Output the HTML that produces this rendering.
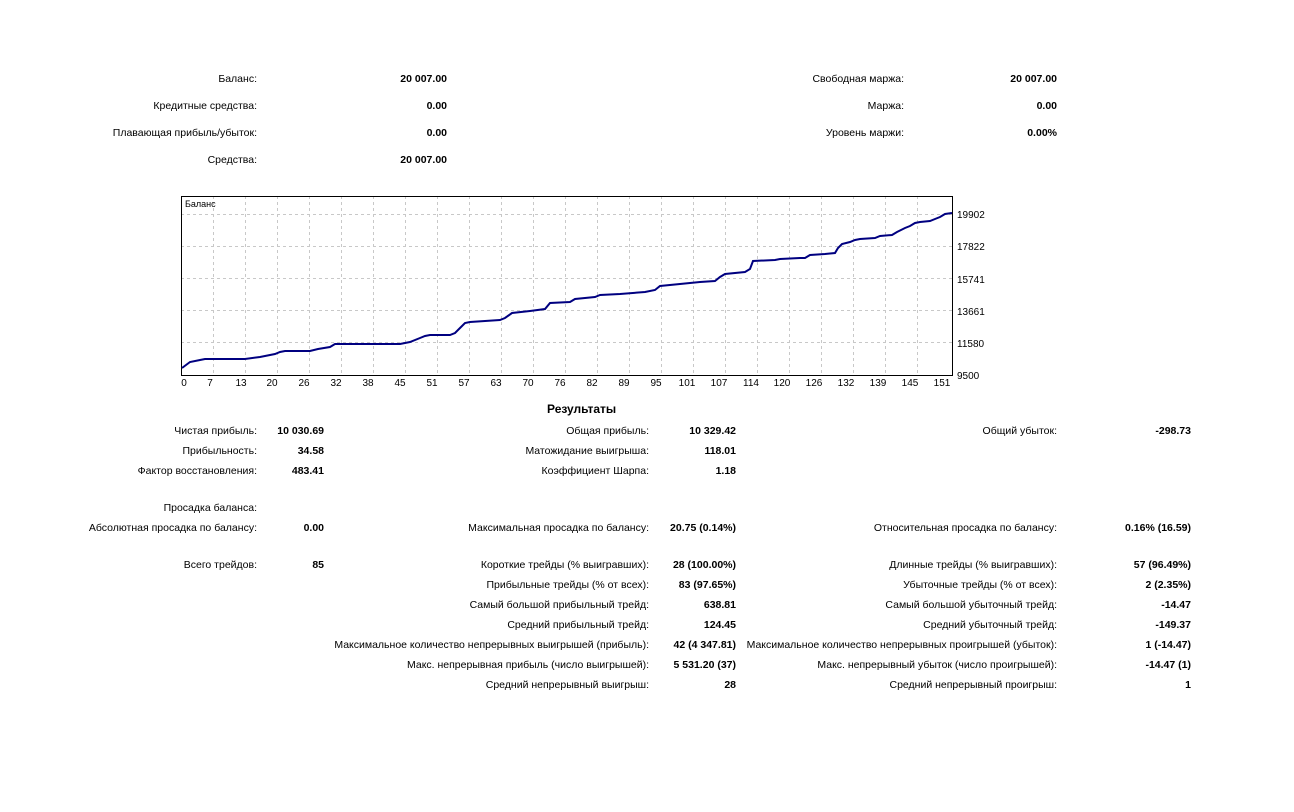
<!DOCTYPE html>
<html><head><meta charset="utf-8"><style>
body{margin:0;width:1294px;height:812px;background:#fff;position:relative;overflow:hidden;font-family:"Liberation Sans",Tahoma,sans-serif;font-size:10.5px;color:#000}
.t{position:absolute;white-space:nowrap;text-align:right;line-height:14px;margin-top:2px}
.b{font-weight:bold}
</style></head><body>
<div class="t" style="right:1037px;top:70px">Баланс:</div>
<div class="t b" style="right:847px;top:70px">20 007.00</div>
<div class="t" style="right:1037px;top:97px">Кредитные средства:</div>
<div class="t b" style="right:847px;top:97px">0.00</div>
<div class="t" style="right:1037px;top:124px">Плавающая прибыль/убыток:</div>
<div class="t b" style="right:847px;top:124px">0.00</div>
<div class="t" style="right:1037px;top:151px">Средства:</div>
<div class="t b" style="right:847px;top:151px">20 007.00</div>
<div class="t" style="right:390px;top:70px">Свободная маржа:</div>
<div class="t b" style="right:237px;top:70px">20 007.00</div>
<div class="t" style="right:390px;top:97px">Маржа:</div>
<div class="t b" style="right:237px;top:97px">0.00</div>
<div class="t" style="right:390px;top:124px">Уровень маржи:</div>
<div class="t b" style="right:237px;top:124px">0.00%</div>

<svg style="position:absolute;left:0;top:0" width="1294" height="400">
<g stroke="#c8c8c8" stroke-dasharray="3,3" stroke-width="1">
<line x1="181" y1="214.5" x2="952" y2="214.5"/><line x1="181" y1="246.5" x2="952" y2="246.5"/><line x1="181" y1="278.5" x2="952" y2="278.5"/><line x1="181" y1="310.5" x2="952" y2="310.5"/><line x1="181" y1="342.5" x2="952" y2="342.5"/>
<line x1="213.5" y1="196" x2="213.5" y2="375"/><line x1="245.5" y1="196" x2="245.5" y2="375"/><line x1="277.5" y1="196" x2="277.5" y2="375"/><line x1="309.5" y1="196" x2="309.5" y2="375"/><line x1="341.5" y1="196" x2="341.5" y2="375"/><line x1="373.5" y1="196" x2="373.5" y2="375"/><line x1="405.5" y1="196" x2="405.5" y2="375"/><line x1="437.5" y1="196" x2="437.5" y2="375"/><line x1="469.5" y1="196" x2="469.5" y2="375"/><line x1="501.5" y1="196" x2="501.5" y2="375"/><line x1="533.5" y1="196" x2="533.5" y2="375"/><line x1="565.5" y1="196" x2="565.5" y2="375"/><line x1="597.5" y1="196" x2="597.5" y2="375"/><line x1="629.5" y1="196" x2="629.5" y2="375"/><line x1="661.5" y1="196" x2="661.5" y2="375"/><line x1="693.5" y1="196" x2="693.5" y2="375"/><line x1="725.5" y1="196" x2="725.5" y2="375"/><line x1="757.5" y1="196" x2="757.5" y2="375"/><line x1="789.5" y1="196" x2="789.5" y2="375"/><line x1="821.5" y1="196" x2="821.5" y2="375"/><line x1="853.5" y1="196" x2="853.5" y2="375"/><line x1="885.5" y1="196" x2="885.5" y2="375"/><line x1="917.5" y1="196" x2="917.5" y2="375"/>
</g>
<rect x="181.5" y="196.5" width="771" height="179" fill="none" stroke="#000"/>
<polyline fill="none" stroke="#000080" stroke-width="2" points="182,368 186,365 190,362 200,360 205,359 245,359 260,357 275,354 280,352 285,351 310,351 318,349 330,347 335,344 340,344 400,344 410,342 420,338 425,336 430,335 450,335 455,333 460,328 465,323 470,322 500,320 505,318 512,313 530,311 545,309 550,303 570,302 575,299 595,297 600,295 620,294 645,292 655,290 660,286 680,284 700,282 715,281 720,277 725,274 745,272 750,269 753,261 775,260 780,259 800,258 805,258 810,255 825,254 835,253 838,248 842,244 850,242 855,240 860,239 875,238 880,236 892,235 897,232 905,228 910,226 915,223 920,222 930,221 935,219 940,217 945,214 952,213"/>
<text x="185" y="207" font-size="9" font-family="Liberation Sans,sans-serif">Баланс</text>
<g font-size="10" font-family="Liberation Sans,sans-serif">
<text x="957" y="218">19902</text><text x="957" y="250">17822</text><text x="957" y="283">15741</text><text x="957" y="315">13661</text><text x="957" y="347">11580</text><text x="957" y="379">9500</text>
</g>
<g font-size="10" font-family="Liberation Sans,sans-serif" text-anchor="middle">
<text x="184" y="386">0</text><text x="210" y="386">7</text><text x="241" y="386">13</text><text x="272" y="386">20</text><text x="304" y="386">26</text><text x="336" y="386">32</text><text x="368" y="386">38</text><text x="400" y="386">45</text><text x="432" y="386">51</text><text x="464" y="386">57</text><text x="496" y="386">63</text><text x="528" y="386">70</text><text x="560" y="386">76</text><text x="592" y="386">82</text><text x="624" y="386">89</text><text x="656" y="386">95</text><text x="687" y="386">101</text><text x="719" y="386">107</text><text x="751" y="386">114</text><text x="782" y="386">120</text><text x="814" y="386">126</text><text x="846" y="386">132</text><text x="878" y="386">139</text><text x="910" y="386">145</text><text x="942" y="386">151</text>
</g>
</svg>

<div class="t b" style="left:547px;top:400px;font-size:12px;text-align:left">Результаты</div>

<div class="t" style="right:1037px;top:422px">Чистая прибыль:</div>
<div class="t b" style="right:970px;top:422px">10 030.69</div>
<div class="t" style="right:645px;top:422px">Общая прибыль:</div>
<div class="t b" style="right:558px;top:422px">10 329.42</div>
<div class="t" style="right:237px;top:422px">Общий убыток:</div>
<div class="t b" style="right:103px;top:422px">-298.73</div>

<div class="t" style="right:1037px;top:442px">Прибыльность:</div>
<div class="t b" style="right:970px;top:442px">34.58</div>
<div class="t" style="right:645px;top:442px">Матожидание выигрыша:</div>
<div class="t b" style="right:558px;top:442px">118.01</div>

<div class="t" style="right:1037px;top:462px">Фактор восстановления:</div>
<div class="t b" style="right:970px;top:462px">483.41</div>
<div class="t" style="right:645px;top:462px">Коэффициент Шарпа:</div>
<div class="t b" style="right:558px;top:462px">1.18</div>

<div class="t" style="right:1037px;top:499px">Просадка баланса:</div>

<div class="t" style="right:1037px;top:519px">Абсолютная просадка по балансу:</div>
<div class="t b" style="right:970px;top:519px">0.00</div>
<div class="t" style="right:645px;top:519px">Максимальная просадка по балансу:</div>
<div class="t b" style="right:558px;top:519px">20.75 (0.14%)</div>
<div class="t" style="right:237px;top:519px">Относительная просадка по балансу:</div>
<div class="t b" style="right:103px;top:519px">0.16% (16.59)</div>

<div class="t" style="right:1037px;top:556px">Всего трейдов:</div>
<div class="t b" style="right:970px;top:556px">85</div>
<div class="t" style="right:645px;top:556px">Короткие трейды (% выигравших):</div>
<div class="t b" style="right:558px;top:556px">28 (100.00%)</div>
<div class="t" style="right:237px;top:556px">Длинные трейды (% выигравших):</div>
<div class="t b" style="right:103px;top:556px">57 (96.49%)</div>

<div class="t" style="right:645px;top:576px">Прибыльные трейды (% от всех):</div>
<div class="t b" style="right:558px;top:576px">83 (97.65%)</div>
<div class="t" style="right:237px;top:576px">Убыточные трейды (% от всех):</div>
<div class="t b" style="right:103px;top:576px">2 (2.35%)</div>

<div class="t" style="right:645px;top:596px">Самый большой прибыльный трейд:</div>
<div class="t b" style="right:558px;top:596px">638.81</div>
<div class="t" style="right:237px;top:596px">Самый большой убыточный трейд:</div>
<div class="t b" style="right:103px;top:596px">-14.47</div>

<div class="t" style="right:645px;top:616px">Средний прибыльный трейд:</div>
<div class="t b" style="right:558px;top:616px">124.45</div>
<div class="t" style="right:237px;top:616px">Средний убыточный трейд:</div>
<div class="t b" style="right:103px;top:616px">-149.37</div>

<div class="t" style="right:645px;top:636px">Максимальное количество непрерывных выигрышей (прибыль):</div>
<div class="t b" style="right:558px;top:636px">42 (4 347.81)</div>
<div class="t" style="right:237px;top:636px">Максимальное количество непрерывных проигрышей (убыток):</div>
<div class="t b" style="right:103px;top:636px">1 (-14.47)</div>

<div class="t" style="right:645px;top:656px">Макс. непрерывная прибыль (число выигрышей):</div>
<div class="t b" style="right:558px;top:656px">5 531.20 (37)</div>
<div class="t" style="right:237px;top:656px">Макс. непрерывный убыток (число проигрышей):</div>
<div class="t b" style="right:103px;top:656px">-14.47 (1)</div>

<div class="t" style="right:645px;top:676px">Средний непрерывный выигрыш:</div>
<div class="t b" style="right:558px;top:676px">28</div>
<div class="t" style="right:237px;top:676px">Средний непрерывный проигрыш:</div>
<div class="t b" style="right:103px;top:676px">1</div>
</body></html>
